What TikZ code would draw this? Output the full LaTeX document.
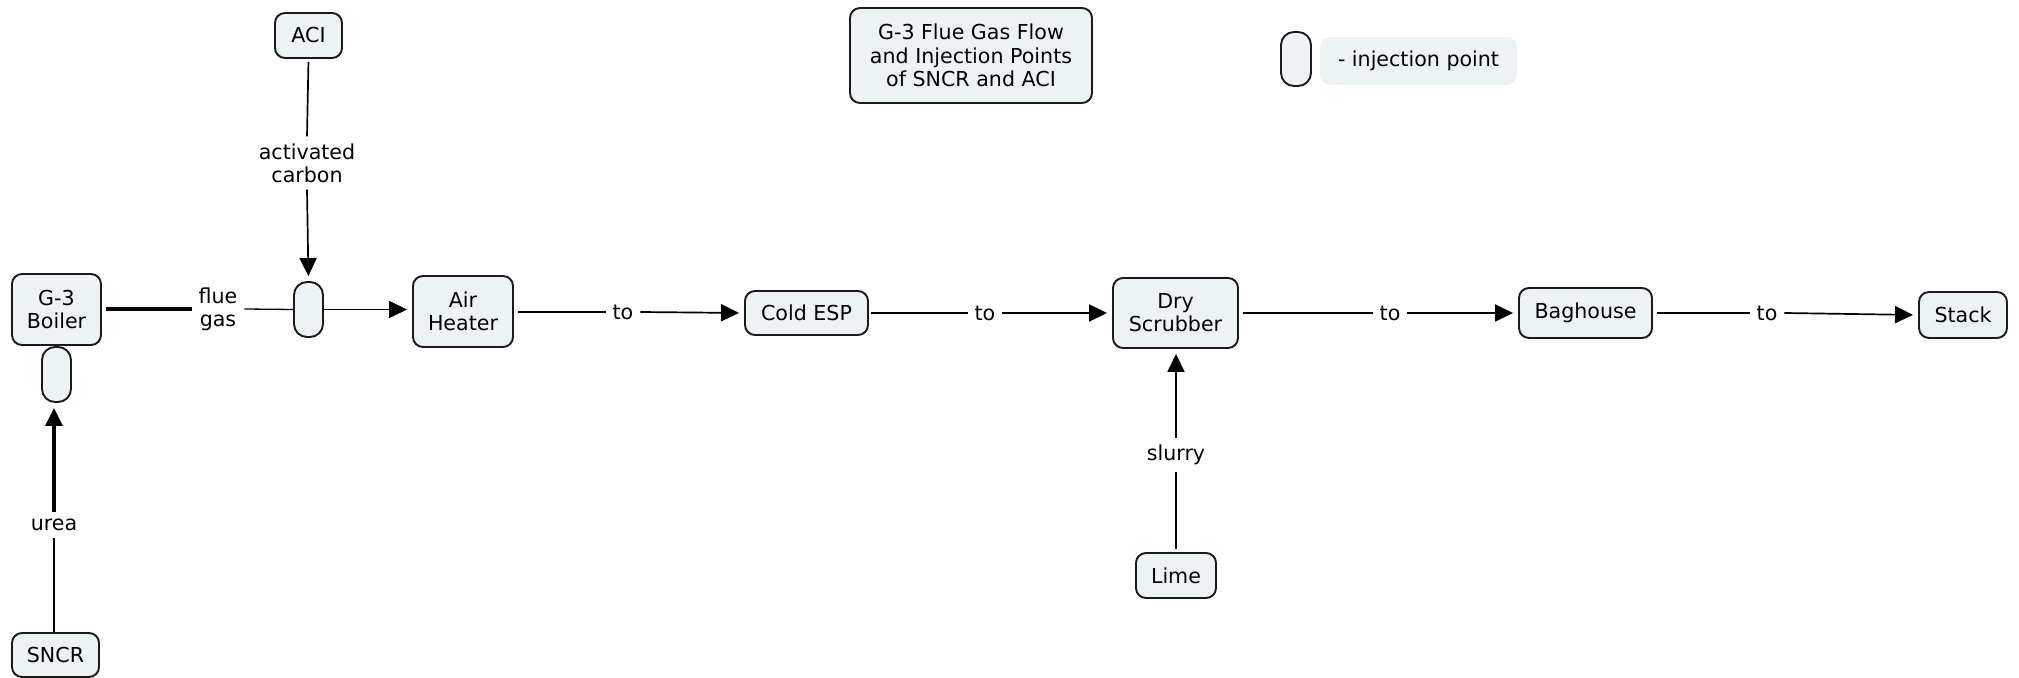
\documentclass[tikz,border=0pt]{standalone}
\usepackage{fontspec}
\setmainfont{DejaVu Sans}
\usetikzlibrary{arrows.meta}
\definecolor{boxfill}{HTML}{EDF3F5}
\definecolor{boxline}{HTML}{1A1A1A}
\begin{document}
\begin{tikzpicture}[x=0.5pt,y=-0.5pt,
  every node/.style={font=\fontsize{10.3}{11.6}\selectfont, align=center},
  concept/.style={draw=boxline, fill=boxfill, line width=0.95pt, rounded corners=5pt, inner sep=0pt},
  injpt/.style={draw=boxline, fill=boxfill, line width=0.95pt, rounded corners=6.5pt, inner sep=0pt, minimum width=14.5pt, minimum height=27.5pt},
  lbl/.style={inner sep=1.5pt, outer sep=2pt, fill=white},
  conn/.style={line width=0.85pt},
  thinconn/.style={line width=0.65pt},
  thickconn/.style={line width=1.6pt},
  arr/.style={-{Triangle[length=9pt,width=8.5pt]}, shorten >=2.5pt},
]
\useasboundingbox (0,0) rectangle (2019,678);

% concepts
\node[concept, minimum width=44.5pt, minimum height=35.5pt] (boiler) at (56.5,309.5) {G-3\\Boiler};
\node[concept, minimum width=33.5pt, minimum height=22.5pt] (aci) at (308.5,35.5) {ACI};
\node[concept, minimum width=43.5pt, minimum height=22pt] (sncr) at (55.5,655) {SNCR};
\node[concept, minimum width=50pt, minimum height=35.5pt] (airh) at (463,311.5) {Air\\Heater};
\node[concept, minimum width=61.5pt, minimum height=22pt] (esp) at (806.5,313) {Cold ESP};
\node[concept, minimum width=62.5pt, minimum height=35pt] (dry) at (1175.5,313) {Dry\\Scrubber};
\node[concept, minimum width=40pt, minimum height=22.5pt] (lime) at (1176,575.5) {Lime};
\node[concept, minimum width=66.5pt, minimum height=25pt] (bag) at (1585.5,313) {Baghouse};
\node[concept, minimum width=44pt, minimum height=23pt] (stack) at (1963,315) {Stack};
\node[concept, minimum width=121pt, minimum height=47.5pt] (title) at (971,55.5) {G-3 Flue Gas Flow\\and Injection Points\\of SNCR and ACI};

% injection points
\node[injpt] (inj1) at (56.5,374.5) {};
\node[injpt] (inj2) at (308.5,309.5) {};
\node[injpt, minimum width=15pt, minimum height=27pt] (legpt) at (1296,59) {};
\node[fill=boxfill, rounded corners=5pt, minimum width=98.5pt, minimum height=24pt, inner sep=0pt] (legtxt) at (1418.5,61) {- injection point};

% labels
\node[lbl] (lac) at (307,163) {activated\\carbon};
\node[lbl] (lflue) at (218,309) {flue\\gas};
\node[lbl] (lurea) at (54,525) {urea};
\node[lbl] (lto1) at (623,312) {to};
\node[lbl] (lto2) at (985,313) {to};
\node[lbl] (lto3) at (1390,313) {to};
\node[lbl] (lto4) at (1767,313) {to};
\node[lbl] (lslurry) at (1176,455) {slurry};

% connectors
\draw[conn, shorten <=1.5pt] (aci.south) -- (lac.north);
\draw[conn, arr] (lac.south) -- (inj2.north);

\draw[thickconn, shorten <=2pt] (boiler.east |- lflue.west) -- (lflue.west);
\draw[thinconn] (lflue.east) -- (inj2.west);
\draw[thinconn, arr] (inj2.east) -- (airh.west |- inj2.east);

\draw[thinconn] (sncr.north -| lurea.south) -- (lurea.south);
\draw[thickconn, arr] (lurea.north) -- (inj1.south -| lurea.north);

\draw[conn, shorten <=2pt] (airh.east |- lto1.west) -- (lto1.west);
\draw[conn, arr] (lto1.east) -- (esp.west);

\draw[conn, shorten <=1pt] (esp.east |- lto2.west) -- (lto2.west);
\draw[conn, arr] (lto2.east) -- (dry.west |- lto2.east);

\draw[conn, shorten <=2pt] (dry.east |- lto3.west) -- (lto3.west);
\draw[conn, arr] (lto3.east) -- (bag.west |- lto3.east);

\draw[conn, shorten <=2pt] (bag.east |- lto4.west) -- (lto4.west);
\draw[conn, arr] (lto4.east) -- (stack.west);

\draw[conn, shorten <=1.5pt] (lime.north) -- (lslurry.south);
\draw[conn, arr] (lslurry.north) -- (lslurry.north |- dry.south);
\end{tikzpicture}
\end{document}
